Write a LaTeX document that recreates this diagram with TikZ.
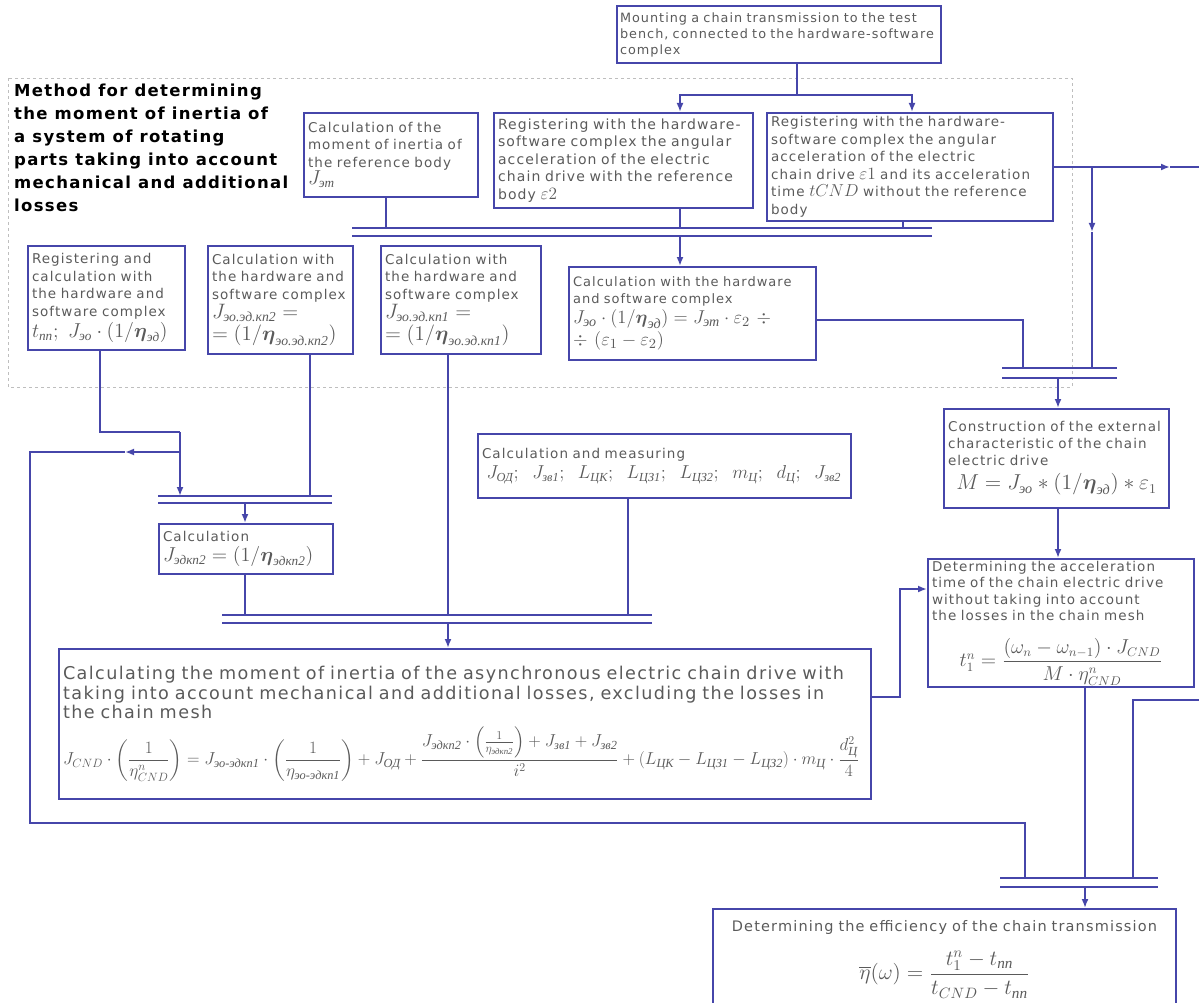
\documentclass[tikz,border=0pt]{standalone}
\usepackage{amsmath}
\usepackage{fontspec}
\setmainfont{DejaVu Sans}[LetterSpace=8]
\newfontfamily\rufont{Liberation Serif}
\usepackage{graphicx}
\usetikzlibrary{arrows.meta}
\definecolor{lineblue}{RGB}{70,70,170}
\definecolor{txtgray}{RGB}{90,90,90}
\definecolor{framegray}{RGB}{190,190,190}
\newcommand{\rs}[1]{\text{\rufont\itshape #1}}

\tikzset{
  blk/.style={draw=lineblue, line width=2pt, anchor=north west, inner xsep=4pt, inner ysep=2pt,
    align=left, text=txtgray, font=\fontsize{13.5}{17.5}\selectfont},
  cn/.style={draw=lineblue, line width=2pt},
  arr/.style={cn, -{Latex[length=9pt,width=7pt]}},
}

\begin{document}
\begin{tikzpicture}[x=1pt,y=-1pt]
    \useasboundingbox (0,0) rectangle (1199,1003);
    \clip (0,0) rectangle (1199,1003);
    \draw[framegray, dashed, line width=0.8pt] (8,78) rectangle (1072,387);
    \node[anchor=north west, align=left, inner sep=0pt, font=\bfseries\fontsize{16.5}{23}\selectfont] (method) at (14,84)
        {Method for determining\\the moment of inertia of\\a system of rotating\\parts taking into account\\mechanical and additional\\losses};

    \node[blk, minimum width=324pt, minimum height=57pt, inner xsep=3pt, text width=318pt, font=\fontsize{12.8}{16}\selectfont] (mount) at (616,5)
        {Mounting a chain transmission to the test\\bench, connected to the hardware-software\\complex};
    \node[blk, minimum width=174pt, minimum height=84pt, text width=166pt] (refcalc) at (303,112)
        {Calculation of the\\moment of inertia of\\the reference body\\\scalebox{1.4}{$J_{\rs{эт}}$}};
    \node[blk, minimum width=259pt, minimum height=95pt, text width=251pt, font=\fontsize{14}{17.5}\selectfont] (regref) at (493,112)
        {Registering with the hardware-\\software complex the angular\\acceleration of the electric\\chain drive with the reference\\body \scalebox{1.2}{$\varepsilon 2$}};
    \node[blk, minimum width=286pt, minimum height=108pt, text width=278pt] (regnoref) at (766,112)
        {Registering with the hardware-\\software complex the angular\\acceleration of the electric\\chain drive \scalebox{1.2}{$\varepsilon 1$} and its acceleration\\time \scalebox{1.2}{$tCND$} without the reference\\body};
    \node[blk, minimum width=247pt, minimum height=93pt, text width=239pt, font=\fontsize{13}{16.5}\selectfont] (calcsoft) at (568,266)
        {Calculation with the hardware\\and software complex\\[3pt]\scalebox{1.55}{$J_{\rs{эо}}\cdot(1/\boldsymbol{\eta}_{\rs{эд}}) = J_{\rs{эт}}\cdot\varepsilon_2\ \div$}\\[2pt]\scalebox{1.55}{$\div\ (\varepsilon_1-\varepsilon_2)$}};
    \node[blk, minimum width=157pt, minimum height=104pt, text width=149pt] (regcalc) at (27,245)
        {Registering and\\calculation with\\the hardware and\\software complex\\[2pt]\scalebox{1.4}{$t_{\rs{пп}};\ J_{\rs{эо}}\cdot(1/\boldsymbol{\eta}_{\rs{эд}})$}};
    \node[blk, minimum width=145pt, minimum height=108pt, text width=137pt] (calckp2) at (207,245)
        {Calculation with\\the hardware and\\software complex\\[2pt]\scalebox{1.45}{$J_{\rs{эо.эд.кп2}} =$}\\[2pt]\scalebox{1.45}{$=(1/\boldsymbol{\eta}_{\rs{эо.эд.кп2}})$}};
    \node[blk, minimum width=160pt, minimum height=108pt, text width=152pt] (calckp1) at (380,245)
        {Calculation with\\the hardware and\\software complex\\[2pt]\scalebox{1.45}{$J_{\rs{эо.эд.кп1}} =$}\\[2pt]\scalebox{1.45}{$=(1/\boldsymbol{\eta}_{\rs{эо.эд.кп1}})$}};
    \node[blk, minimum width=174pt, minimum height=50pt, text width=166pt] (calckp) at (158,523)
        {Calculation\\[2pt]\scalebox{1.4}{$J_{\rs{эдкп2}} = (1/\boldsymbol{\eta}_{\rs{эдкп2}})$}};
    \node[blk, minimum width=373pt, minimum height=64pt, text width=365pt] (measure) at (477,433)
        {Calculation and measuring\\[3pt]\ \scalebox{1.3}{$J_{\rs{ОД}};\;\; J_{\rs{зв1}};\;\; L_{\rs{ЦК}};\;\; L_{\rs{ЦЗ1}};\;\; L_{\rs{ЦЗ2}};\;\; m_{\rs{Ц}};\;\; d_{\rs{Ц}};\;\; J_{\rs{зв2}}$}};
    \node[blk, minimum width=812pt, minimum height=150pt, text width=804pt, font=\fontsize{17.6}{19.5}\selectfont] (inertia) at (58,648)
        {Calculating the moment of inertia of the asynchronous electric chain drive with\\taking into account mechanical and additional losses, excluding the losses in\\the chain mesh\\[7pt]
        \resizebox{796pt}{!}{$\displaystyle J_{CND}\cdot\left(\frac{1}{\eta^{n}_{CND}}\right)=J_{\rs{эо-эдкп1}}\cdot\left(\frac{1}{\eta_{\rs{эо-эдкп1}}}\right)+J_{\rs{ОД}}+\frac{J_{\rs{эдкп2}}\cdot\left(\frac{1}{\eta_{\rs{эдкп2}}}\right)+J_{\rs{зв1}}+J_{\rs{зв2}}}{i^{2}}+\left(L_{\rs{ЦК}}-L_{\rs{ЦЗ1}}-L_{\rs{ЦЗ2}}\right)\cdot m_{\rs{Ц}}\cdot\frac{d_{\rs{Ц}}^{2}}{4}$}};
    \node[blk, minimum width=225pt, minimum height=99pt, text width=217pt, font=\fontsize{13.5}{17}\selectfont] (extchar) at (943,408)
        {Construction of the external\\characteristic of the chain\\electric drive\\[7pt]\makebox[\linewidth]{\scalebox{1.5}{$M = J_{\rs{эо}}*(1/\boldsymbol{\eta}_{\rs{эд}})*\varepsilon_1$}}};
    \node[blk, minimum width=266pt, minimum height=125pt, text width=258pt, font=\fontsize{13.5}{16.5}\selectfont] (acctime) at (927,558)
        {Determining the acceleration\\time of the chain electric drive\\without taking into account\\the losses in the chain mesh\\[16pt]\makebox[\linewidth]{\scalebox{1.4}{$t_1^{n} = \dfrac{(\omega_{n}-\omega_{n-1})\cdot J_{CND}}{M\cdot\eta^{n}_{CND}}$}}};
    \node[blk, minimum width=463pt, minimum height=100pt, text width=455pt, align=center, font=\fontsize{14.5}{17}\selectfont] (effic) at (712,908)
        {Determining the efficiency of the chain transmission\\[16pt]\scalebox{1.5}{$\overline{\eta}(\omega) = \dfrac{t_1^{n}-t_{\rs{пп}}}{t_{CND}-t_{\rs{пп}}}$}};

    \coordinate (split) at (797,95);
    \coordinate (xb) at (680,0);
    \coordinate (xc) at (912,0);
    \draw[cn] (mount.south -| split) -- (split);
    \draw[arr] (split) -| (regref.north -| xb);
    \draw[arr] (split) -| (regnoref.north -| xc);

    \coordinate (b1l) at (352,228);
    \coordinate (b1r) at (932,228);
    \coordinate (b1lo) at (352,236);
    \coordinate (b1ro) at (932,236);
    \draw[cn] (b1l) -- (b1r);
    \draw[cn] (b1lo) -- (b1ro);
    \coordinate (xa) at (386,0);
    \coordinate (xc2) at (903,0);
    \draw[cn] (refcalc.south -| xa) -- (b1l -| xa);
    \draw[cn] (regref.south -| xb) -- (b1l -| xb);
    \draw[cn] (regnoref.south -| xc2) -- (b1l -| xc2);
    \draw[arr] (b1lo -| xb) -- (calcsoft.north -| xb);

    \coordinate (b2l) at (1002,368);
    \coordinate (b2r) at (1117,368);
    \coordinate (b2lo) at (1002,378);
    \coordinate (b2ro) at (1117,378);
    \draw[cn] (b2l) -- (b2r);
    \draw[cn] (b2lo) -- (b2ro);
    \coordinate (xd) at (1023,320);
    \draw[cn] (calcsoft.east |- xd) -- (xd) -- (b2l -| xd);
    \coordinate (edge) at (1199,0);
    \coordinate (xo) at (1170,0);
    \coordinate (xr) at (1092,0);
    \draw[arr] (regnoref.east) -- (regnoref.east -| xo);
    \draw[cn] (regnoref.east -| xo) -- (regnoref.east -| edge);
    \coordinate (rmid) at (1092,232);
    \draw[arr] (regnoref.east -| xr) -- (rmid);
    \draw[cn] (rmid) -- (b2l -| xr);
    \coordinate (xk) at (1058,0);
    \draw[arr] (b2lo -| xk) -- (extchar.north -| xk);
    \draw[arr] (extchar.south -| xk) -- (acctime.north -| xk);

    \coordinate (jl) at (900,697);
    \coordinate (ly) at (0,589);
    \draw[arr] (inertia.east |- jl) -- (jl) |- (acctime.west |- ly);

    \coordinate (b5l) at (1000,878);
    \coordinate (b5r) at (1158,878);
    \coordinate (b5lo) at (1000,887);
    \coordinate (b5ro) at (1158,887);
    \draw[cn] (b5l) -- (b5r);
    \draw[cn] (b5lo) -- (b5ro);
    \coordinate (xl) at (1085,0);
    \draw[cn] (acctime.south -| xl) -- (b5l -| xl);
    \coordinate (rr) at (1133,700);
    \draw[cn] (rr -| edge) -- (rr) -- (b5l -| rr);
    \draw[arr] (b5lo -| xl) -- (effic.north -| xl);

    \coordinate (xe) at (100,0);
    \coordinate (e1) at (100,432);
    \coordinate (e2) at (180,432);
    \coordinate (b3l) at (158,496);
    \coordinate (b3r) at (332,496);
    \coordinate (b3lo) at (158,503);
    \coordinate (b3ro) at (332,503);
    \draw[cn] (b3l) -- (b3r);
    \draw[cn] (b3lo) -- (b3ro);
    \draw[cn] (regcalc.south -| xe) -- (e1) -- (e2);
    \draw[arr] (e2) -- (b3l -| e2);
    \coordinate (xf) at (310,0);
    \draw[cn] (calckp2.south -| xf) -- (b3l -| xf);
    \coordinate (xh) at (245,0);
    \draw[arr] (b3lo -| xh) -- (calckp.north -| xh);

    \coordinate (lp) at (180,452);
    \coordinate (lpa) at (125,452);
    \coordinate (lpl) at (30,452);
    \coordinate (lpb) at (30,823);
    \coordinate (lpc) at (1025,823);
    \draw[arr] (lp) -- (lpa);
    \draw[cn] (lpa) -- (lpl) -- (lpb) -- (lpc) -- (b5l -| lpc);

    \coordinate (b4l) at (222,615);
    \coordinate (b4r) at (652,615);
    \coordinate (b4lo) at (222,623);
    \coordinate (b4ro) at (652,623);
    \draw[cn] (b4l) -- (b4r);
    \draw[cn] (b4lo) -- (b4ro);
    \coordinate (xg) at (448,0);
    \coordinate (xi) at (628,0);
    \draw[cn] (calckp.south -| xh) -- (b4l -| xh);
    \draw[cn] (calckp1.south -| xg) -- (b4l -| xg);
    \draw[cn] (measure.south -| xi) -- (b4l -| xi);
    \draw[arr] (b4lo -| xg) -- (inertia.north -| xg);
\end{tikzpicture}
\end{document}
